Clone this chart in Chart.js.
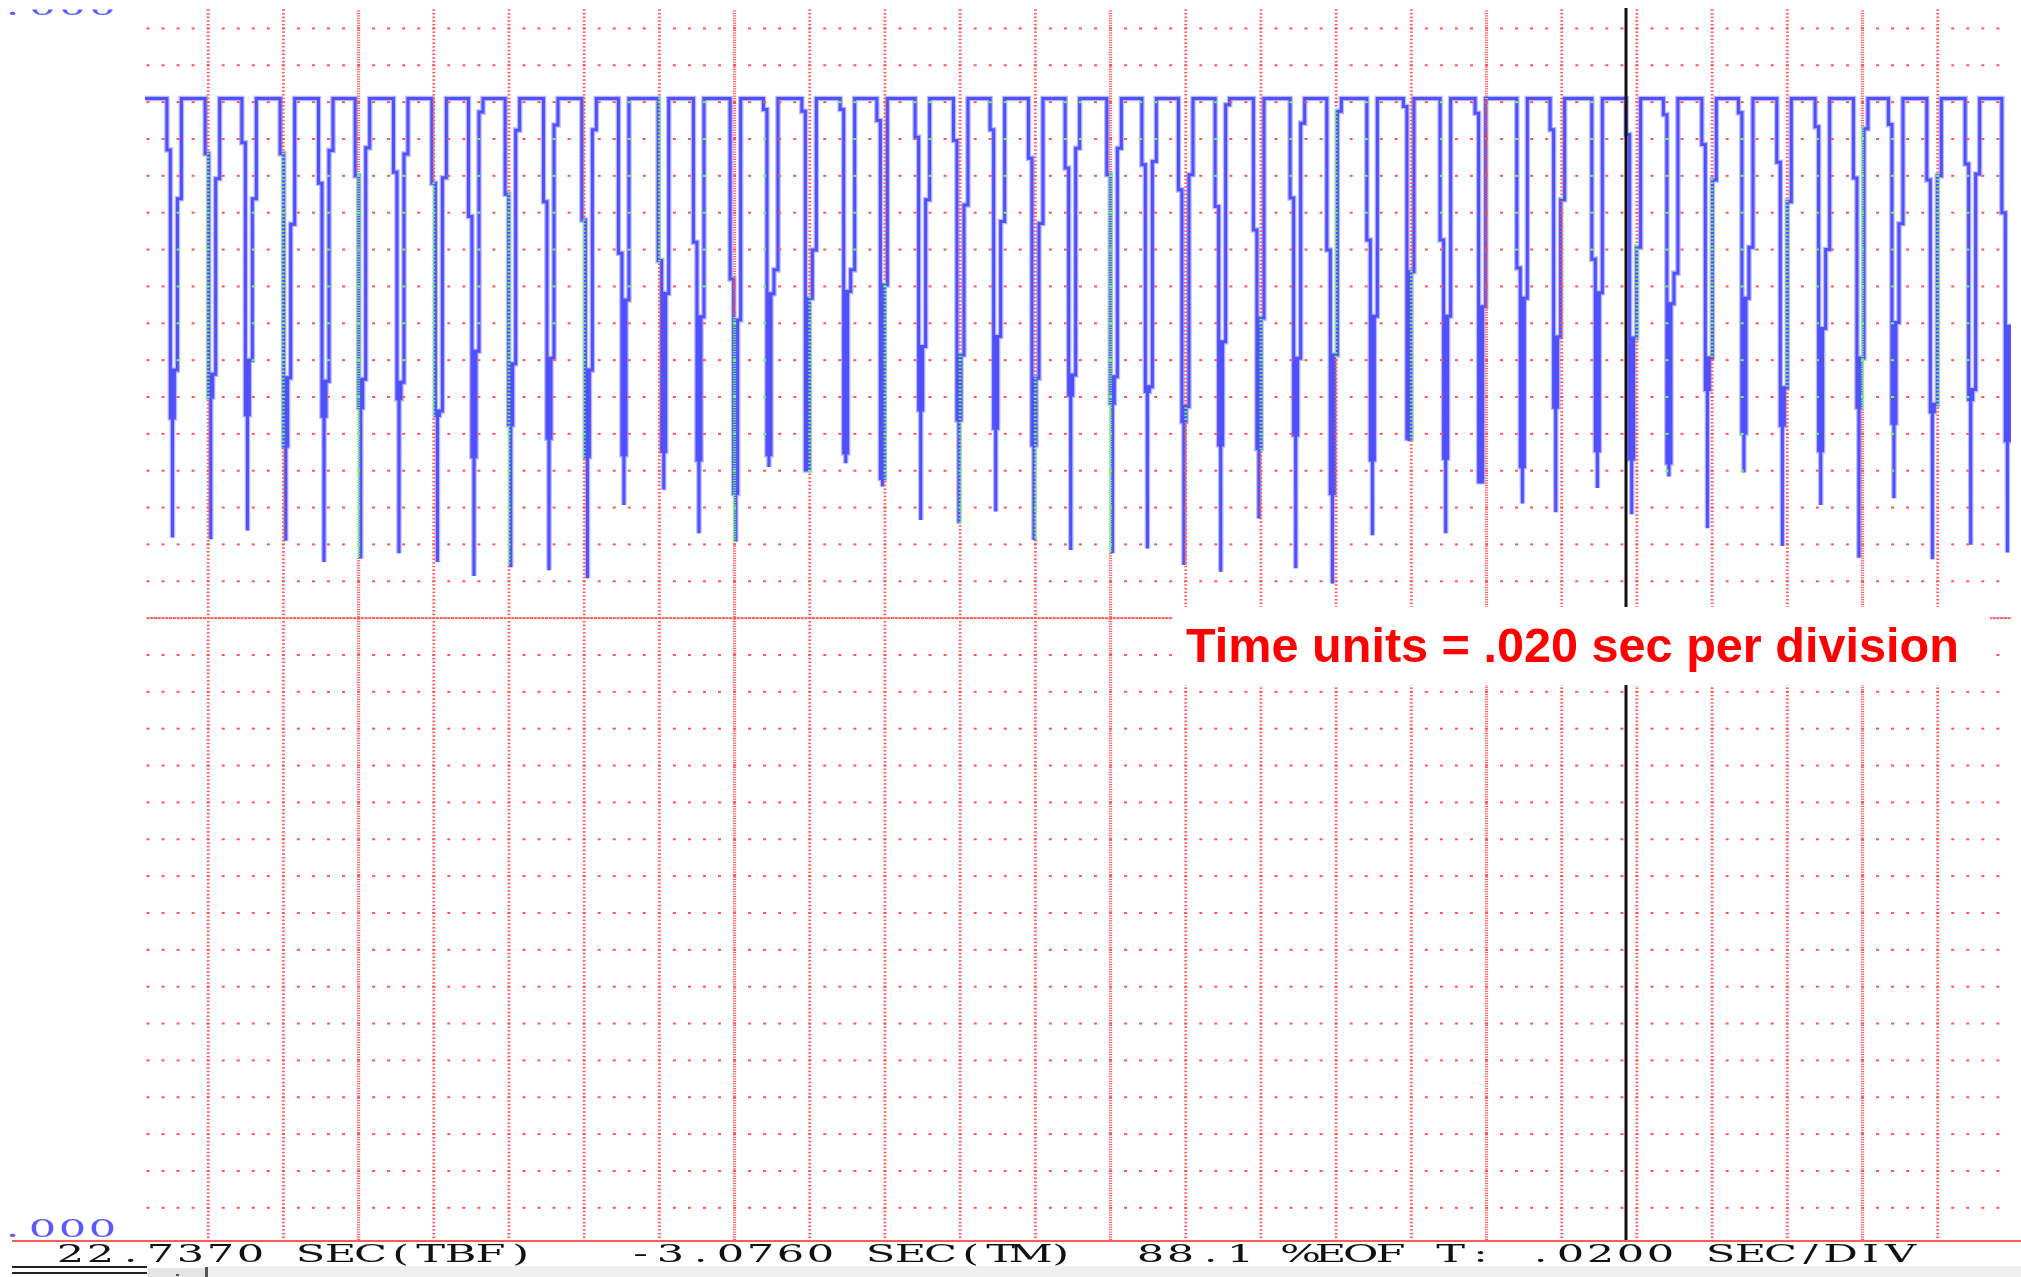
<!DOCTYPE html>
<html>
<head>
<meta charset="utf-8">
<title>Scope trace</title>
<script src="https://cdn.jsdelivr.net/npm/chart.js@4.4.1/dist/chart.umd.min.js"></script>
<style>
  html, body { margin: 0; padding: 0; background: #fff; overflow: hidden; }
  #wrap { width: 2021px; height: 1277px; }
</style>
</head>
<body>
<div id="wrap"><canvas id="scope" width="2021" height="1277"></canvas></div>
<script>
// Values.
// Time in ms (one grid division = 20 ms = .0200 SEC/DIV), level in grid rows (0 = bottom row, 32 = top row)
const timeMin = -16.8;
const timeMax = 479.5;
const levelMin = -0.9;
const levelMax = 32.5;
const highLevel = 30.1;
const cursorTime = 377.1;

// one entry per pulse: when it falls, and the levels it steps through
const fallTimes = [-10.98, -0.80, 8.96, 19.15, 29.34, 39.10, 49.28, 59.50, 69.23, 78.99,
    89.18, 99.39, 109.12, 119.69, 129.07, 138.83, 147.69, 157.90, 168.09, 177.85,
    188.03, 198.22, 207.98, 218.17, 227.93, 239.02, 248.33, 258.06, 267.82, 278.01,
    287.77, 297.53, 308.17, 317.90, 327.66, 336.97, 348.06, 356.92, 368.01, 377.13,
    387.05, 397.27, 407.00, 417.21, 427.40, 437.59, 446.90, 457.11, 467.30, 477.06];
const stepLevels = [28.7, 28.6, 28.9, 28.6, 27.8, 28.0, 28.1, 27.8, 26.9, 27.5,
    27.3, 26.8, 25.9, 25.7, 26.2, 25.2, 29.8, 29.75, 29.8, 29.5,
    29.05, 28.96, 29.25, 28.48, 28.21, 28.03, 28.3, 27.62, 27.17, 26.53,
    27.4, 25.99, 26.26, 29.88, 26.26, 29.7, 25.5, 29.25, 25.74, 29.12,
    29.66, 28.85, 29.71, 28.37, 29.33, 27.94, 29.39, 27.89, 28.32, 27.0];
const lowLevels = [22.73, 22.62, 23.0, 22.52, 22.43, 22.48, 22.4, 21.62, 23.24, 22.9,
    23.05, 22.73, 24.63, 24.81, 24.18, 24.09, 24.8, 24.68, 24.86, 25.04,
    23.37, 23.14, 23.64, 22.51, 22.6, 22.55, 22.28, 21.74, 23.5, 24.14,
    23.05, 23.14, 24.19, 25.4, 24.19, 24.45, 24.68, 23.63, 24.83, 23.6,
    24.53, 23.06, 24.68, 22.25, 23.86, 23.06, 24.02, 21.8, 22.2, 23.92];
const blockBottoms = [21.43, 22.0, 21.52, 20.67, 21.48, 21.71, 21.95, 21.5, 20.38, 21.24,
    20.88, 20.38, 20.43, 20.52, 20.29, 19.38, 20.43, 20.02, 20.48, 19.79,
    21.65, 21.38, 21.15, 20.7, 22.05, 21.83, 22.15, 21.33, 20.7, 20.6,
    20.97, 19.38, 20.29, 20.88, 20.34, 19.7, 20.11, 21.72, 20.54, 20.32,
    20.21, 22.2, 21.02, 21.23, 20.54, 21.72, 21.29, 21.6, 21.93, 20.81];
const spikeLevels = [18.19, 18.14, 18.38, 18.1, 17.52, 17.62, 17.76, 17.52, 17.14, 17.38,
    17.3, 17.08, 19.07, 19.48, 18.3, 18.07, 20.1, 20.0, 20.2, 19.57,
    18.66, 18.57, 18.89, 18.12, 17.85, 17.76, 17.89, 17.44, 17.26, 18.7,
    17.35, 16.94, 18.25, 20.8, 18.3, 19.65, 19.11, 18.87, 19.53, 18.82,
    19.84, 18.44, 19.95, 17.96, 19.07, 17.64, 19.25, 17.6, 17.99, 17.78];
const riseLevels = [27.38, 27.92, 27.38, 26.69, 28.69, 28.76, 28.59, 27.95, 29.73, 29.24,
    29.38, 29.25, 30.1, 30.1, 30.1, 30.1, 25.45, 25.99, 25.45, 30.1,
    27.35, 27.21, 26.76, 26.71, 28.75, 28.75, 28.39, 28.03, 29.93, 30.1,
    29.43, 29.75, 30.1, 30.1, 30.1, 30.1, 30.1, 27.35, 30.1, 26.06,
    25.36, 27.89, 26.06, 27.3, 26.0, 29.28, 26.7, 28.0, 28.05, 30.1];

// Status line texts
const statusText = '22.7370 SEC(TBF)   -3.0760 SEC(TM)  88.1 %EOF T: .0200 SEC/DIV';
const scaleLabel = '.000';
const noteText = 'Time units = .020 sec per division';

// Build the stepped trace from the pulse table (time offsets in ms inside one pulse)
function buildTrace() {
    const pts = [{ x: timeMin, y: highLevel }];
    fallTimes.forEach((t, i) => {
        const s1 = stepLevels[i], lo = lowLevels[i], bot = blockBottoms[i];
        const sp = spikeLevels[i], r = riseLevels[i];
        pts.push({ x: t, y: highLevel }, { x: t, y: s1 }, { x: t + 0.93, y: s1 });
        // burst: zig-zag between low level and block bottom, spike in the middle
        pts.push(
            { x: t + 0.93, y: bot }, { x: t + 1.2, y: bot }, { x: t + 1.2, y: lo },
            { x: t + 1.46, y: lo }, { x: t + 1.46, y: sp }, { x: t + 1.52, y: lo },
            { x: t + 1.73, y: lo }, { x: t + 1.73, y: bot }, { x: t + 2.0, y: bot },
            { x: t + 2.0, y: lo }
        );
        pts.push({ x: t + 2.8, y: lo }, { x: t + 2.8, y: r }, { x: t + 3.86, y: r }, { x: t + 3.86, y: highLevel });
    });
    return pts;
}

// Fixed pitch text, glyphs stretched sideways like the scope's bitmap font
function drawMono(c, text, x0, baseline, pitch, color) {
    c.save();
    c.font = '24px "DejaVu Serif", serif';
    c.fillStyle = color;
    c.textAlign = 'center';
    c.textBaseline = 'alphabetic';
    for (let i = 0; i < text.length; i++) {
        if (text[i] === ' ') continue;
        c.save();
        c.translate(x0 + i * pitch, baseline);
        c.scale(1.8, 1);
        c.fillText(text[i], 0, 0);
        c.restore();
    }
    c.restore();
}

const scopeOverlay = {
    id: 'scopeOverlay',
    beforeDraw(chart) {
        const c = chart.ctx;
        c.save();
        c.fillStyle = '#fff';
        c.fillRect(0, 0, chart.width, chart.height);
        c.restore();
    },
    afterDatasetsDraw(chart) {
        const c = chart.ctx, a = chart.chartArea, xs = chart.scales.x, ys = chart.scales.y;
        const W = chart.width, H = chart.height;
        const pix = c.getImageData(0, 0, W, H).data;

        // grid dots turn green where they land on the trace (XOR look of the scope)
        const onTrace = (px, py) => {
            const ix = Math.round(px), iy = Math.round(py);
            if (ix < 0 || iy < 0 || ix >= W || iy >= H) return false;
            const i = (iy * W + ix) * 4;
            return pix[i + 2] > 200 && pix[i] < 150 && pix[i + 1] < 150;
        };
        const dot = (px, py, w, h) => {
            c.fillStyle = onTrace(px, py) ? 'rgb(110,250,110)' : 'rgb(255,88,88)';
            c.fillRect(px - w / 2, py - h / 2, w, h);
        };

        c.save();
        // horizontal rows, centre row denser
        for (let v = 0; v <= 32; v++) {
            const py = ys.getPixelForValue(v);
            const step = v === 16 ? 1 : 4;
            for (let k = Math.ceil(xs.min / step); k * step <= xs.max; k++) {
                dot(xs.getPixelForValue(k * step), py, 3, 2);
            }
        }
        // vertical division lines, every fifth one denser
        for (let k = 0; k * 20 <= xs.max; k++) {
            const px = xs.getPixelForValue(k * 20);
            const major = k % 5 === 2;
            const step = major ? 0.066 : 0.1;
            for (let j = Math.ceil(ys.min / step); j * step <= ys.max; j++) {
                dot(px, ys.getPixelForValue(j * step), major ? 3.2 : 2.8, major ? 1.1 : 1.5);
            }
        }

        // cursor
        const cx = xs.getPixelForValue(cursorTime);
        c.fillStyle = '#111';
        c.fillRect(cx - 1.5, a.top - 2, 3, a.bottom - a.top + 2);

        // note box
        c.fillStyle = '#fff';
        c.fillRect(1172, 607, 818, 78);
        c.font = 'bold 49px "Liberation Sans", Arial, sans-serif';
        const fit = 49 * 773 / c.measureText(noteText).width;
        c.font = 'bold ' + fit.toFixed(1) + 'px "Liberation Sans", Arial, sans-serif';
        c.fillStyle = '#ff0000';
        c.textAlign = 'left';
        c.textBaseline = 'alphabetic';
        c.fillText(noteText, 1186, 662);

        // bottom line of the screen
        c.fillStyle = 'rgb(255,90,90)';
        c.fillRect(12, a.bottom - 1, W - 12, 2);
        c.restore();

        // scale labels (top one is cut off by the screen edge) and status line
        c.save();
        c.beginPath();
        c.rect(0, 9.5, 200, 20);
        c.clip();
        drawMono(c, scaleLabel, 12.5, 14.5, 30, 'rgb(90,90,255)');
        c.restore();
        drawMono(c, scaleLabel, 12.5, 1237, 30, 'rgb(90,90,255)');
        drawMono(c, statusText, 70.6, 1262, 30, '#111');

        // window chrome under the status line
        c.save();
        c.fillStyle = '#efefef';
        c.fillRect(208, 1266, W - 208, H - 1266);
        c.fillStyle = '#e4e4e4';
        c.fillRect(148, 1268, 60, H - 1268);
        c.fillStyle = '#555';
        c.fillRect(205, 1267, 3, H - 1267);
        c.fillRect(176, 1274, 3, 2);
        c.fillStyle = '#222';
        c.fillRect(12, 1266, 135, 2);
        c.fillRect(12, 1272, 135, 2);
        c.restore();
    }
};

const trace = buildTrace();

new Chart(document.getElementById('scope'), {
    type: 'line',
    data: {
        datasets: [
            {
                // bright core of the trace, drawn last
                data: trace,
                borderColor: 'rgb(80,80,255)',
                borderWidth: 3,
                pointRadius: 0,
                tension: 0,
                order: 1
            },
            {
                // soft halo around the trace
                data: trace,
                borderColor: 'rgb(185,185,255)',
                borderWidth: 5.6,
                pointRadius: 0,
                tension: 0,
                order: 2
            }
        ]
    },
    options: {
        responsive: false,
        devicePixelRatio: 1,
        animation: false,
        events: [],
        layout: { padding: { left: 145, top: 10, right: 10, bottom: 36 } },
        scales: {
            x: { type: 'linear', min: timeMin, max: timeMax, display: false },
            y: { type: 'linear', min: levelMin, max: levelMax, display: false }
        },
        plugins: {
            legend: { display: false },
            tooltip: { enabled: false }
        }
    },
    plugins: [scopeOverlay]
});
</script>
</body>
</html>
